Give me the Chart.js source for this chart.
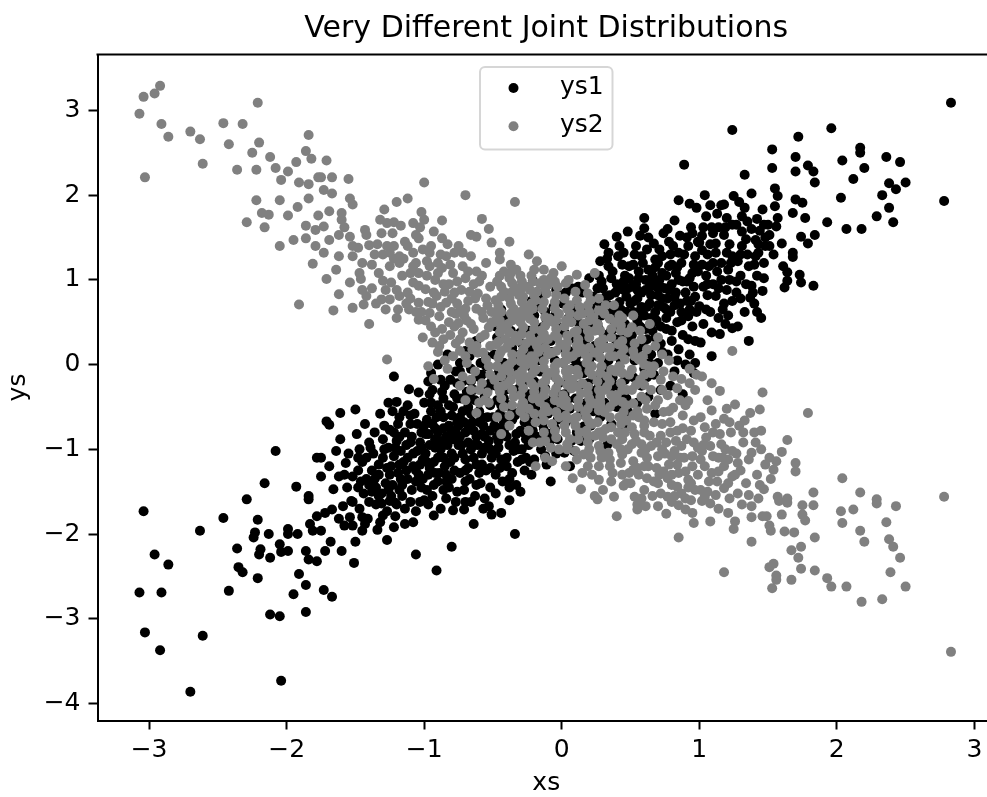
<!DOCTYPE html>
<html><head><meta charset="utf-8">
<script src="https://cdn.jsdelivr.net/npm/chart.js@4.4.0/dist/chart.umd.min.js"></script>
<style>
html,body{margin:0;padding:0;background:#fff;overflow:hidden;width:987px;height:797px;}
#wrap{position:absolute;left:0;top:0;width:1000px;height:797px;}
</style></head><body>
<div id="wrap"><canvas id="c" width="1000" height="797"></canvas></div>
<script>
const titleText = 'Very Different Joint Distributions';
const xAxisLabel = 'xs';
const yAxisLabel = 'ys';
const seriesLabels = ['ys1', 'ys2'];
const seriesColors = ['#000000', '#808080'];
const xTicks = [-3, -2, -1, 0, 1, 2, 3];
const xTickLabels = ['\u22123', '\u22122', '\u22121', '0', '1', '2', '3'];
const yTicks = [-4, -3, -2, -1, 0, 1, 2, 3];
const yTickLabels = ['\u22124', '\u22123', '\u22122', '\u22121', '0', '1', '2', '3'];
const xRange = [-3.375, 3.15];
const yRange = [-4.2, 3.66];

// ys1 (black) points: [xs, ys1]
const ys1Points = [
[-3.07,-2.69],[-3.04,-1.73],[-3.03,-3.16],[-2.96,-2.24],[-2.92,-3.37],[-2.91,-2.69],[-2.86,-2.36],[-2.70,-3.86],[-2.63,-1.96],[-2.61,-3.20],[-2.46,-1.81],[-2.42,-2.67],[-2.36,-2.17],[-2.35,-2.39],[-2.32,-2.45],[-2.29,-1.59],[-2.24,-2.04],[-2.23,-1.98],[-2.21,-1.83],[-2.21,-2.52],[-2.20,-2.24],[-2.19,-2.18],[-2.16,-1.40],[-2.13,-2.00],[-2.12,-2.28],[-2.12,-2.95],[-2.08,-1.02],[-2.05,-2.12],[-2.05,-2.97],[-2.04,-2.21],[-2.04,-3.73],[-1.99,-1.94],[-1.99,-2.00],[-1.99,-2.20],[-1.95,-2.71],[-1.93,-1.44],[-1.92,-2.00],[-1.91,-2.47],[-1.86,-2.20],[-1.86,-2.60],[-1.86,-2.92],[-1.84,-1.55],[-1.84,-1.59],[-1.84,-2.30],[-1.83,-1.88],[-1.81,-1.96],[-1.78,-1.10],[-1.78,-1.79],[-1.78,-2.32],
[-1.53,-1.61],[-1.59,-1.67],[-1.67,-1.71],[-1.72,-1.75],[-1.62,-1.82],[-1.54,-1.80],[-1.52,-1.90],[-1.75,-1.96],[-1.68,-2.09],[-1.72,-2.20],[-1.60,-2.20],[-1.51,-2.34],[-1.73,-2.66],[-1.67,-2.74],[-1.61,-0.57],[-1.71,-0.67],[-1.69,-0.71],[-1.61,-0.88],[-1.75,-1.10],[-1.69,-1.20],[-1.57,-1.16],[-1.62,-1.32],[-1.52,-1.32],[-1.66,-1.47],[-1.75,-1.32],[-1.50,-2.09],[-1.56,-1.45],[-1.64,-1.02],
[-1.41,-1.82],[-1.45,-1.96],[-1.32,-1.86],[-1.31,-1.64],[-1.27,-1.73],[-1.25,-1.61],[-1.27,-2.07],[-1.47,-1.00],[-1.40,-0.92],[-1.32,-0.58],[-1.50,-0.53],[-1.45,-1.15],[-1.38,-1.25],[-1.30,-1.10],[-1.42,-1.35],[-1.35,-1.45],[-1.28,-1.40],[-1.44,-1.52],[-1.36,-0.80],[-1.30,-0.88],[-1.26,-0.98],[-1.48,-1.25],[-1.33,-1.30],[-1.27,-1.22],[-1.40,-1.62],[-1.29,-0.72],[-1.47,-1.70],[-1.37,-1.05],[-1.43,-0.70],[-1.34,-1.95],[-1.49,-0.82],[-1.26,-0.45],[-1.38,-1.50],[-1.46,-1.38],[-1.31,-1.52],
[-1.55,-1.05],[-1.42,-1.10],[-1.48,-1.45],[-1.35,-1.65],[-1.45,-1.80],[-1.30,-1.78],[-1.58,-1.90],[-1.40,-1.42],[-1.33,-1.18],[-1.26,-1.48],
[-1.58,-1.30],[-1.52,-1.62],[-1.48,-1.10],[-1.43,-1.88],[-1.39,-0.98],[-1.36,-1.35],[-1.33,-1.55],[-1.29,-1.00],[-1.25,-1.30],[-1.22,-1.92],[-1.18,-1.48],[-1.14,-1.88],
[-1.21,-1.63],[-1.21,-1.79],[-1.06,-1.73],[-1.08,-1.86],[-1.00,-1.60],[-1.06,-2.24],[-1.22,-0.14],[-1.11,-0.29],[-1.04,-0.33],[-1.20,-0.44],[-1.12,-0.48],[-1.25,-0.77],[-1.18,-0.62],[-1.10,-0.70],[-1.02,-0.80],[-1.20,-0.90],[-1.13,-0.95],[-1.05,-1.02],[-1.22,-1.08],[-1.15,-1.15],[-1.08,-1.20],[-1.01,-1.12],[-1.19,-1.28],[-1.12,-1.35],[-1.04,-1.30],[-1.23,-1.42],[-1.09,-1.48],[-1.16,-1.55],[-1.02,-1.45],[-1.14,-0.80],[-1.07,-0.58],[-1.24,-1.20],[-1.17,-1.02],[-1.03,-0.92],[-1.10,-1.62],[-1.19,-0.70],[-1.06,-1.38],[-1.14,-1.70],[-1.00,-0.45],[-1.23,-0.55],[-1.09,-0.85],[-1.16,-1.42],[-1.03,-1.18],[-1.21,-0.98],
[-1.22,-0.80],[-1.08,-1.05],[-1.18,-1.18],[-1.13,-1.25],[-1.03,-1.62],[-1.17,-1.35],[-1.24,-1.55],[-1.10,-0.92],[-1.05,-0.70],[-1.15,-0.55],[-1.01,-1.35],[-1.20,-1.65],
[-1.18,-0.85],[-1.12,-1.10],[-1.10,-0.60],[-1.06,-1.25],[-1.02,-0.98],[-1.00,-0.72],[-0.98,-1.15],[-0.96,-0.35],[-0.94,-0.70],[-0.92,-1.28],[-0.90,-0.48],[-0.88,-0.90],[-0.86,-0.75],[-0.84,-1.38],[-0.82,-0.48],[-0.80,-0.78],[-0.78,-1.10],[-0.76,-0.40],[-0.74,-0.85],[-0.72,-0.55],[-0.70,-1.25],[-0.68,-0.72],[-0.66,-0.40],[-0.64,-0.95],[-0.62,-1.42],[-0.60,-0.68],[-0.58,-1.18],[-0.56,-0.85],[-0.54,-0.30],[-0.52,-1.00],[-0.50,-0.62],[-0.48,-0.15],[-0.46,-0.75],[-0.44,-1.12],[-0.42,-0.40],[-0.40,-0.85],[-0.38,-1.35],[-0.36,-0.30],[-0.34,-0.60],[-0.32,-1.00],[-0.30,-0.12],[-0.28,-0.80],[-0.26,-1.10],[-0.24,-0.50],[-0.22,-0.72],
[-0.80,-2.15],[-0.91,-2.43],[-0.90,0.00],[-0.77,-0.08],[-0.97,-0.20],[-0.85,-0.25],[-0.78,-0.35],[-0.95,-0.45],[-0.88,-0.55],[-0.80,-0.60],[-0.98,-0.65],[-0.92,-0.75],[-0.84,-0.85],[-0.77,-0.80],[-0.96,-0.95],[-0.88,-1.00],[-0.80,-1.05],[-0.93,-1.15],[-0.85,-1.20],[-0.78,-1.25],[-0.97,-1.30],[-0.90,-1.38],[-0.82,-1.45],[-0.94,-1.55],[-0.86,-0.40],[-0.99,-1.05],[-0.76,-1.50],[-0.88,-1.70],[-0.83,0.12],[-0.95,-0.10],[-0.79,-0.50],[-0.91,-0.62],[-0.99,-0.82],[-0.82,-0.72],[-0.75,-0.95],[-0.92,-0.88],[-0.86,-1.10],[-0.96,-1.22],[-0.80,-1.35],[-0.89,-1.28],[-0.77,-1.62],[-0.98,-1.48],[-0.84,-1.58],[-0.93,-1.78],[-0.81,-0.18],[-0.87,-0.32],[-0.76,-0.68],[-0.94,-0.30],[-0.83,-0.95],[-0.90,-0.80],
[-0.95,-0.55],[-0.86,-0.62],[-0.79,-0.88],[-0.97,-0.82],[-0.90,-1.10],[-0.81,-1.15],[-0.93,-1.42],[-0.86,-1.48],[-0.79,-1.72],[-0.97,-1.65],[-0.88,-0.18],[-0.76,-0.22],[-0.92,-0.98],[-0.84,-1.30],
[-0.70,-1.62],[-0.71,-1.71],[-0.53,-1.67],[-0.51,-1.77],[-0.70,0.16],[-0.62,0.28],[-0.55,0.10],[-0.74,0.02],[-0.66,-0.05],[-0.58,-0.12],[-0.72,-0.20],[-0.52,-0.22],[-0.64,-0.30],[-0.56,-0.38],[-0.73,-0.40],[-0.68,-0.50],[-0.60,-0.55],[-0.52,-0.48],[-0.74,-0.62],[-0.65,-0.68],[-0.57,-0.72],[-0.70,-0.80],[-0.62,-0.85],[-0.53,-0.90],[-0.73,-0.95],[-0.66,-1.00],[-0.58,-1.05],[-0.51,-1.10],[-0.70,-1.12],[-0.62,-1.18],[-0.55,-1.25],[-0.74,-1.28],[-0.67,-1.35],[-0.59,-1.40],[-0.52,-1.45],[-0.71,-1.48],[-0.63,-1.55],[-0.56,-1.58],[-0.66,-0.20],[-0.54,-0.62],[-0.61,-0.95],[-0.69,-0.32],[-0.58,-0.82],[-0.63,-0.42],[-0.72,-1.05],[-0.55,-0.02],[-0.68,-1.22],[-0.60,-0.15],[-0.64,-1.88],[-0.75,-0.72],
[-0.66,-0.58],[-0.58,-0.62],[-0.71,-0.68],[-0.52,-0.78],[-0.64,-0.78],[-0.68,-0.92],[-0.56,-0.98],[-0.64,-1.10],[-0.52,-1.22],[-0.70,-1.38],[-0.60,-1.28],[-0.66,-1.62],[-0.57,-1.70],[-0.74,-0.08],[-0.59,0.02],[-0.67,0.10],
[-0.34,-2.00],[-0.48,0.45],[-0.40,0.55],[-0.30,0.38],[-0.45,0.30],[-0.36,0.20],[-0.27,0.12],[-0.49,0.12],[-0.42,0.02],[-0.32,-0.02],[-0.46,-0.10],[-0.38,-0.15],[-0.28,-0.20],[-0.48,-0.25],[-0.41,-0.30],[-0.33,-0.35],[-0.26,-0.42],[-0.47,-0.42],[-0.39,-0.48],[-0.30,-0.55],[-0.45,-0.58],[-0.36,-0.65],[-0.27,-0.68],[-0.49,-0.72],[-0.42,-0.78],[-0.33,-0.82],[-0.26,-0.88],[-0.46,-0.90],[-0.38,-0.95],[-0.29,-1.00],[-0.48,-1.05],[-0.40,-1.10],[-0.32,-1.15],[-0.45,-1.22],[-0.36,-1.28],[-0.27,-1.25],[-0.43,-1.38],[-0.33,-1.42],[-0.48,-1.52],[-0.38,-1.60],[-0.30,-1.50],[-0.44,0.65],[-0.35,-0.08],[-0.29,0.25],[-0.40,-0.62],[-0.31,-0.28],[-0.47,-0.85],[-0.35,-1.02],[-0.42,-0.20],[-0.26,-0.62],[-0.37,0.40],[-0.44,-1.75],
[-0.44,-0.48],[-0.36,-0.55],[-0.30,-0.78],[-0.42,-0.68],[-0.34,-0.92],[-0.46,-0.98],[-0.40,-1.20],[-0.29,-1.12],[-0.48,-1.30],[-0.38,-1.45],[-0.28,-0.45],[-0.44,-0.05],[-0.34,0.12],[-0.47,0.32],
[-0.09,-0.92],[-0.13,-0.77],[-0.22,0.75],[-0.15,0.82],[-0.06,0.68],[-0.20,0.58],[-0.11,0.52],[-0.03,0.45],[-0.24,0.40],[-0.17,0.35],[-0.08,0.28],[-0.01,0.20],[-0.21,0.18],[-0.13,0.10],[-0.05,0.05],[-0.23,-0.02],[-0.16,-0.08],[-0.07,-0.12],[-0.02,-0.22],[-0.20,-0.20],[-0.12,-0.28],[-0.24,-0.35],[-0.15,-0.42],[-0.06,-0.38],[-0.19,-0.52],[-0.10,-0.58],[-0.02,-0.55],[-0.23,-0.65],[-0.14,-0.70],[-0.05,-0.75],[-0.18,-0.85],[-0.24,-0.95],[-0.15,-1.00],[-0.04,-1.05],[-0.20,-1.12],[-0.11,-1.18],[-0.22,-1.30],[-0.08,-1.38],[-0.17,0.05],[-0.09,-0.45],[-0.04,0.88],[-0.18,-0.30],[-0.03,-0.88],[-0.12,0.62],[-0.21,-0.78],[-0.07,0.15],[-0.16,0.25],[-0.21,0.99],
[-0.20,-0.45],[-0.07,-0.48],[-0.16,-0.62],[-0.03,-0.65],[-0.22,-0.88],[-0.09,-0.82],[-0.12,-1.08],[-0.23,-1.15],[-0.02,-0.35],[-0.14,0.44],[-0.05,0.58],[-0.19,0.68],
[0.02,-1.04],[0.09,-1.02],[0.06,-1.20],[0.16,-0.73],[0.20,1.02],[0.07,0.90],[0.15,0.85],[0.23,0.80],[0.01,0.72],[0.10,0.68],[0.18,0.62],[0.05,0.55],[0.13,0.48],[0.22,0.45],[0.02,0.38],[0.09,0.32],[0.17,0.28],[0.24,0.22],[0.04,0.18],[0.12,0.12],[0.20,0.05],[0.01,0.02],[0.08,-0.05],[0.16,-0.10],[0.23,-0.15],[0.05,-0.18],[0.13,-0.25],[0.21,-0.30],[0.02,-0.35],[0.10,-0.40],[0.18,-0.45],[0.06,-0.52],[0.14,-0.58],[0.23,-0.55],[0.03,-0.68],[0.11,-0.80],[0.20,-0.88],[0.07,-0.90],[0.19,0.35],[0.08,0.15],[0.14,-0.02],[0.04,-0.42],[0.21,-0.72],[0.11,0.58],
[0.12,0.92],[0.03,0.85],[0.21,0.68],[0.08,0.62],[0.15,0.38],[0.06,0.30],[0.22,0.12],[0.10,0.05],[0.19,-0.22],[0.06,-0.28],[0.15,-0.52],[0.24,-0.38],[0.01,-0.55],[0.14,-0.90],
[0.31,1.42],[0.34,1.32],[0.41,1.28],[0.34,1.16],[0.49,1.16],[0.40,1.51],[0.48,1.57],[0.29,-0.80],[0.27,1.05],[0.36,1.02],[0.45,0.98],[0.30,0.90],[0.39,0.85],[0.47,0.80],[0.26,0.75],[0.34,0.70],[0.43,0.65],[0.29,0.58],[0.38,0.52],[0.46,0.48],[0.27,0.42],[0.35,0.38],[0.44,0.32],[0.30,0.25],[0.39,0.20],[0.48,0.15],[0.26,0.10],[0.34,0.05],[0.42,-0.02],[0.29,-0.08],[0.37,-0.15],[0.46,-0.18],[0.27,-0.25],[0.35,-0.30],[0.43,-0.35],[0.31,-0.45],[0.40,-0.50],[0.48,-0.55],[0.28,-0.62],[0.36,-0.70],[0.45,-0.72],[0.33,-0.95],[0.42,1.40],[0.28,1.22],[0.46,1.05],[0.37,0.62],[0.32,-0.18],[0.41,0.10],[0.45,0.88],[0.26,0.48],
[0.33,1.25],[0.45,1.32],[0.29,0.98],[0.40,0.95],[0.48,0.90],[0.32,0.80],[0.42,0.74],[0.27,0.62],[0.35,0.55],[0.44,0.45],[0.31,0.35],[0.39,0.30],[0.47,0.25],[0.28,0.18],[0.43,0.05],[0.32,-0.05],[0.40,-0.25],[0.47,-0.40],[0.30,-0.55],
[0.26,0.90],[0.30,0.68],[0.35,0.82],[0.37,1.10],[0.38,0.42],[0.41,0.60],[0.43,0.90],[0.44,1.18],[0.47,0.62],[0.49,1.02],[0.50,0.30],[0.50,0.72],[0.53,1.30],[0.54,0.95],[0.56,0.62],[0.58,0.85],[0.59,1.20],[0.62,1.36],[0.62,0.68],[0.64,0.92],[0.66,1.05],[0.67,0.50],[0.70,0.70],[0.71,1.00],[0.73,1.28],[0.75,0.90],[0.76,0.65],[0.78,1.45],[0.80,1.18],[0.82,0.80],[0.85,1.00],[0.87,0.62],[0.89,1.30],[0.91,0.75],[0.93,1.02],[0.95,1.55],[0.97,0.80],[0.99,1.10],
[0.60,1.73],[0.60,1.61],[0.54,1.40],[0.67,1.43],[0.71,1.36],[0.58,1.28],[0.68,1.24],[0.52,1.18],[0.63,1.12],[0.73,1.08],[0.56,1.02],[0.66,0.98],[0.51,0.92],[0.61,0.88],[0.70,0.82],[0.55,0.78],[0.64,0.72],[0.74,0.68],[0.52,0.62],[0.60,0.58],[0.69,0.52],[0.57,0.45],[0.66,0.40],[0.51,0.35],[0.62,0.30],[0.72,0.25],[0.55,0.18],[0.65,0.12],[0.53,0.05],[0.70,0.02],[0.60,-0.05],[0.67,-0.12],[0.52,-0.15],[0.58,-0.25],[0.72,-0.30],[0.63,-0.38],[0.55,-0.45],[0.68,-0.58],[0.74,1.55],[0.57,1.52],[0.65,0.55],[0.72,0.92],[0.59,0.22],[0.53,0.75],[0.68,1.15],[0.62,-0.15],
[0.63,1.50],[0.70,1.20],[0.56,1.10],[0.61,1.00],[0.69,0.92],[0.55,0.88],[0.65,0.82],[0.73,0.78],[0.58,0.68],[0.68,0.62],[0.55,0.52],[0.72,0.45],[0.61,0.42],[0.51,0.25],[0.68,0.32],[0.57,0.08],[0.73,0.15],[0.64,0.02],
[0.89,2.36],[0.85,1.94],[0.93,1.90],[0.98,1.85],[0.77,1.60],[0.81,1.40],[0.85,1.32],[0.97,1.28],[0.78,1.16],[0.87,1.20],[0.92,0.57],[0.90,0.00],[0.83,0.85],[0.76,1.05],[0.95,1.08],[0.80,0.95],[0.88,0.98],[0.96,0.92],[0.77,0.78],[0.86,0.72],[0.94,0.75],[0.79,0.62],[0.98,0.62],[0.84,0.50],[0.76,0.42],[0.95,0.45],[0.88,0.35],[0.80,0.28],[0.97,0.28],[0.85,0.18],[0.77,0.12],[0.93,0.12],[0.82,-0.08],[0.96,-0.10],[0.79,-0.25],[0.88,-0.35],[0.91,1.50],[0.83,1.08],[0.99,1.45],[0.76,0.55],[0.90,0.85],[0.82,1.70],[0.94,1.62],
[0.86,1.52],[0.79,1.30],[0.92,1.40],[0.84,1.15],[0.96,1.18],[0.78,0.88],[0.91,0.98],[0.82,0.70],[0.93,0.65],[0.87,0.52],[0.80,0.40],[0.92,0.30],[0.84,0.05],[0.97,0.02],
[1.24,2.77],[1.04,2.00],[1.25,1.99],[1.18,1.89],[1.13,1.78],[1.20,1.73],[1.24,1.65],[1.02,1.52],[1.00,1.44],[1.12,1.43],[1.18,1.53],[1.24,1.28],[1.12,1.32],[1.07,1.16],[1.21,1.12],[1.12,0.81],[1.00,0.69],[1.09,0.10],[1.01,0.26],[1.24,0.43],[1.15,0.36],[1.05,1.05],[1.16,1.00],[1.03,0.92],[1.10,0.95],[1.20,0.88],[1.06,0.82],[1.18,0.72],[1.08,0.62],[1.14,0.55],[1.03,0.48],[1.21,0.58],[1.06,1.30],[1.16,1.20],[1.09,1.62],[1.22,1.42],[1.05,1.75],
[1.14,1.62],[1.03,1.62],[1.20,1.32],[1.08,1.42],[1.10,1.20],[1.22,1.00],[1.02,1.18],[1.14,0.90],[1.24,0.75],[1.05,0.65],[1.19,0.48],[1.09,0.38],[1.16,1.88],[1.08,1.88],
[1.02,1.35],[1.06,0.95],[1.10,1.55],[1.13,1.10],[1.17,0.65],[1.19,1.62],[1.23,1.20],[1.27,0.98],[1.31,1.75],[1.35,1.30],[1.39,0.85],[1.43,1.42],[1.47,1.65],
[1.33,2.24],[1.38,2.02],[1.35,1.69],[1.46,1.83],[1.31,1.57],[1.41,1.47],[1.31,1.40],[1.41,1.28],[1.36,1.16],[1.43,1.32],[1.47,1.20],[1.46,0.87],[1.37,0.79],[1.38,0.93],[1.27,0.85],[1.36,0.28],[1.30,1.05],[1.42,1.05],[1.33,0.62],[1.45,0.55],[1.28,0.45],[1.40,0.72],[1.48,1.40],[1.29,1.92],[1.44,1.58],[1.34,1.48],[1.28,1.22],
[1.33,1.85],[1.42,1.72],[1.27,1.65],[1.38,1.60],[1.48,1.50],[1.30,1.30],[1.40,1.18],[1.34,0.95],[1.47,1.02],[1.30,0.78],[1.42,0.62],
[1.50,1.65],[1.53,2.54],[1.53,2.32],[1.55,2.08],[1.57,1.99],[1.55,1.87],[1.57,1.73],[1.56,1.63],[1.51,1.53],[1.60,1.43],[1.51,1.40],[1.54,1.30],[1.61,1.16],[1.64,1.09],[1.62,0.91],[1.64,0.99],[1.74,0.97],[1.83,0.93],[1.72,2.69],[1.70,2.45],[1.70,2.28],[1.79,2.35],[1.83,2.28],[1.84,2.15],[1.70,1.95],[1.75,1.91],[1.68,1.79],[1.77,1.73],[1.74,1.51],[1.84,1.53],[1.79,1.43],[1.68,1.32],[1.68,1.27],[1.73,1.06],[1.96,2.79],[2.17,2.56],[2.17,2.50],[2.04,2.41],[2.36,2.45],[2.46,2.39],[2.20,2.32],[2.12,2.19],[2.38,2.14],[2.43,2.07],[2.50,2.15],[2.33,2.00],[2.03,1.97],[2.78,1.93],[2.38,1.85],[2.29,1.75],[2.41,1.68],[1.93,1.68],[2.07,1.60],[2.18,1.60],[2.83,3.09]
];

// ys2 (gray) points: [xs, ys2]
const ys2Points = [
[-3.07,2.96],[-3.04,3.16],[-3.03,2.21],[-2.96,3.20],[-2.92,3.29],[-2.91,2.84],[-2.86,2.69],[-2.70,2.75],[-2.63,2.66],[-2.61,2.37],[-2.46,2.85],[-2.42,2.60],[-2.36,2.30],[-2.32,2.84],[-2.29,1.68],[-2.25,2.50],[-2.22,2.30],[-2.22,1.94],[-2.21,3.09],[-2.20,2.62],[-2.18,1.79],[-2.16,1.62],[-2.13,1.77],[-2.12,2.45],[-2.08,2.32],[-2.05,1.94],[-2.05,1.40],[-2.04,2.18],[-1.99,2.28],[-1.99,1.76],[-1.95,1.47],[-1.93,2.39],[-1.92,1.86],[-1.91,2.15],[-1.91,0.71],[-1.86,2.52],[-1.86,1.64],[-1.86,1.49],[-1.84,2.71],[-1.84,2.13],[-1.84,1.96],[-1.82,2.43],[-1.81,1.19],[-1.79,1.59],[-1.79,1.40],[-1.77,2.21],[-1.77,1.76],
[-1.71,2.41],[-1.75,2.21],[-1.67,2.21],[-1.55,2.19],[-1.73,2.06],[-1.67,2.02],[-1.54,1.96],[-1.52,1.89],[-1.69,1.81],[-1.60,1.79],[-1.60,1.71],[-1.73,1.63],[-1.62,1.53],[-1.69,1.47],[-1.54,1.51],[-1.52,1.40],[-1.73,1.32],[-1.62,1.28],[-1.52,1.28],[-1.64,1.12],[-1.71,1.01],[-1.66,0.64],[-1.52,0.67],[-1.62,0.83],[-1.54,0.97],[-1.58,1.62],
[-1.43,1.59],[-1.42,1.53],[-1.40,1.41],[-1.27,1.40],[-1.46,1.01],[-1.44,0.71],[-1.42,0.81],[-1.40,0.48],[-1.31,0.77],[-1.30,0.99],[-1.28,0.65],[-1.25,0.77],[-1.31,1.55],[-1.32,1.71],[-1.29,1.83],[-1.27,1.67],[-1.47,1.08],[-1.33,1.08],[-1.25,1.32],[-1.25,1.16],[-1.27,0.06],
[-1.36,1.30],[-1.45,1.20],[-1.38,0.90],[-1.34,1.42],[-1.48,1.38],
[-1.45,0.88],[-1.38,1.18],[-1.35,0.72],[-1.30,1.30],[-1.28,0.88],[-1.22,1.25],[-1.20,0.55],[-1.16,1.05],[-1.12,1.40],[-1.10,0.78],[-1.06,1.20],[-1.02,0.62],[-0.98,1.05],[-0.96,1.32],[-0.93,0.85],[-0.90,1.20],[-0.86,0.95],[-0.84,1.28],[-0.80,0.78],[-0.78,0.45],
[-1.23,1.55],[-1.17,1.64],[-1.08,1.67],[-1.02,1.80],[-1.00,1.71],[-1.20,1.92],[-1.12,1.96],[-1.00,2.15],[-1.18,1.28],[-1.08,1.32],[-1.01,1.36],[-1.06,1.53],[-1.04,1.49],[-1.18,1.20],[-1.08,1.16],[-1.04,1.08],[-1.24,0.97],[-1.19,0.65],[-1.12,0.85],[-1.11,0.65],[-1.04,0.73],[-1.08,0.97],[-1.18,0.81],[-1.04,0.93],[-1.04,0.53],[-1.01,0.32],
[-1.22,1.40],[-1.14,1.45],[-1.10,1.08],[-1.15,1.25],[-1.03,1.62],[-1.20,0.88],[-1.13,0.72],[-1.06,0.62],[-1.22,1.68],
[-0.87,1.70],[-0.93,1.57],[-0.87,1.49],[-0.88,1.30],[-0.75,1.40],[-0.96,1.16],[-0.87,1.14],[-0.79,1.08],[-0.99,0.89],[-0.96,0.61],[-0.89,0.57],[-0.84,0.73],[-0.94,0.26],[-0.87,0.42],[-0.79,0.10],[-0.97,-0.02],[-0.93,-0.17],[-0.91,0.81],[-0.75,0.49],[-0.82,0.95],[-0.92,1.00],[-0.78,0.85],[-0.86,0.30],[-0.80,0.62],[-0.95,0.45],[-0.77,0.25],[-0.83,-0.05],[-0.90,0.15],[-0.82,0.50],[-0.76,0.72],[-0.85,0.05],[-0.94,0.72],
[-0.98,1.22],[-0.90,1.08],[-0.81,1.18],[-0.76,0.98],[-0.97,0.74],[-0.85,0.86],[-0.77,0.60],[-0.92,0.38],[-0.81,0.35],[-0.99,0.52],[-0.88,0.68],[-0.78,1.32],[-0.95,1.40],[-0.83,1.42],[-0.89,0.22],
[-0.70,2.00],[-0.58,1.72],[-0.53,1.60],[-0.66,1.53],[-0.62,1.51],[-0.51,1.44],[-0.72,1.32],[-0.66,1.28],[-0.72,1.16],[-0.62,1.10],[-0.62,-0.57],[-0.53,-0.45],[-0.70,1.02],[-0.58,1.05],[-0.64,0.95],[-0.52,0.92],[-0.73,0.88],[-0.61,0.84],[-0.55,0.78],[-0.68,0.75],[-0.74,0.64],[-0.62,0.66],[-0.51,0.62],[-0.57,0.55],[-0.69,0.52],[-0.64,0.42],[-0.53,0.44],[-0.72,0.38],[-0.59,0.32],[-0.67,0.26],[-0.52,0.22],[-0.74,0.16],[-0.61,0.14],[-0.55,0.06],[-0.69,0.02],[-0.63,-0.08],[-0.52,-0.12],[-0.72,-0.14],[-0.58,-0.22],[-0.66,-0.30],[-0.54,-0.33],[-0.70,-0.42],[-0.60,-0.45],[-0.65,0.18],[-0.56,0.35],[-0.71,0.58],[-0.63,0.78],
[-0.60,0.98],[-0.67,0.86],[-0.54,0.70],[-0.70,0.66],[-0.58,0.62],[-0.66,0.48],[-0.51,0.50],[-0.74,0.30],[-0.62,0.22],[-0.57,0.14],[-0.70,0.10],[-0.53,-0.02],[-0.66,-0.18],[-0.60,-0.30],[-0.74,-0.25],[-0.56,-0.42],[-0.68,1.10],[-0.55,1.20],
[-0.34,1.92],[-0.45,1.32],[-0.45,1.24],[-0.38,1.45],[-0.37,1.18],[-0.42,1.10],[-0.30,1.05],[-0.47,0.98],[-0.36,0.96],[-0.26,0.92],[-0.42,0.86],[-0.31,0.82],[-0.48,0.76],[-0.37,0.72],[-0.27,0.68],[-0.44,0.62],[-0.33,0.58],[-0.49,0.50],[-0.39,0.48],[-0.28,0.44],[-0.45,0.38],[-0.34,0.34],[-0.26,0.25],[-0.48,0.24],[-0.40,0.20],[-0.30,0.12],[-0.46,0.08],[-0.36,0.04],[-0.27,-0.02],[-0.43,-0.06],[-0.32,-0.12],[-0.49,-0.18],[-0.39,-0.22],[-0.28,-0.28],[-0.45,-0.32],[-0.35,-0.38],[-0.42,-0.50],[-0.30,-0.55],[-0.38,-0.72],[-0.41,0.30],[-0.29,0.56],[-0.46,0.70],[-0.33,0.90],[-0.40,-0.02],[-0.26,-0.15],
[-0.38,1.02],[-0.28,0.80],[-0.44,0.80],[-0.35,0.66],[-0.47,0.56],[-0.30,0.50],[-0.42,0.42],[-0.32,0.28],[-0.44,0.16],[-0.26,0.06],[-0.38,-0.08],[-0.47,-0.02],[-0.30,-0.20],[-0.42,-0.25],[-0.36,-0.48],[-0.47,-0.62],[-0.28,-0.45],[-0.33,1.12],[-0.27,-0.62],[-0.44,-0.82],
[-0.45,1.05],[-0.44,0.92],[-0.46,0.66],[-0.45,0.52],[-0.44,0.44],[-0.46,0.27],[-0.45,0.13],[-0.44,-0.14],[-0.46,-0.26],[-0.44,-0.40],
[-0.37,1.08],[-0.36,0.86],[-0.38,0.78],[-0.37,0.60],[-0.36,0.52],[-0.38,0.38],[-0.37,0.26],[-0.36,0.12],[-0.38,0.00],[-0.37,-0.18],[-0.36,-0.30],[-0.38,-0.60],
[-0.29,0.98],[-0.30,0.88],[-0.29,0.74],[-0.30,0.62],[-0.29,0.36],[-0.28,0.18],[-0.30,0.04],[-0.29,-0.08],[-0.30,-0.36],[-0.29,-0.48],
[-0.21,0.98],[-0.20,0.82],[-0.21,0.66],[-0.20,0.42],[-0.21,0.28],[-0.20,0.06],[-0.21,-0.10],[-0.20,-0.26],[-0.21,-0.40],[-0.20,-0.58],
[-0.13,1.00],[-0.12,0.90],[-0.13,0.74],[-0.12,0.56],[-0.13,0.36],[-0.12,0.20],[-0.13,-0.04],[-0.12,-0.20],[-0.13,-0.36],[-0.12,-0.50],[-0.13,-0.66],[-0.12,-0.90],
[-0.05,0.98],[-0.04,0.82],[-0.05,0.66],[-0.04,0.52],[-0.05,0.34],[-0.04,0.16],[-0.05,-0.02],[-0.04,-0.16],[-0.05,-0.42],[-0.04,-0.56],[-0.05,-0.78],
[-0.24,1.30],[-0.18,1.22],[-0.13,1.12],[-0.12,-1.10],[-0.07,-1.14],[-0.22,1.05],[-0.08,1.02],[-0.16,0.96],[-0.03,0.92],[-0.23,0.88],[-0.11,0.84],[-0.19,0.76],[-0.05,0.74],[-0.14,0.66],[-0.24,0.62],[-0.02,0.60],[-0.09,0.54],[-0.20,0.50],[-0.15,0.40],[-0.04,0.42],[-0.23,0.34],[-0.10,0.30],[-0.01,0.24],[-0.18,0.22],[-0.07,0.14],[-0.22,0.10],[-0.13,0.04],[-0.03,0.02],[-0.19,-0.06],[-0.09,-0.10],[-0.24,-0.16],[-0.14,-0.22],[-0.02,-0.20],[-0.20,-0.32],[-0.06,-0.34],[-0.16,-0.44],[-0.24,-0.52],[-0.10,-0.55],[-0.02,-0.62],[-0.19,-0.68],[-0.13,-0.80],[-0.04,-0.86],[-0.21,-0.92],[-0.08,-0.98],[-0.17,0.15],[-0.06,0.50],[-0.12,-0.30],[-0.22,0.72],[-0.01,-0.45],
[-0.20,1.12],[-0.10,0.94],[-0.06,1.08],[-0.18,0.86],[-0.23,0.54],[-0.12,0.46],[-0.03,0.32],[-0.15,0.30],[-0.21,0.00],[-0.05,-0.08],[-0.11,-0.14],[-0.18,-0.40],[-0.04,-0.28],[-0.22,-0.22],[-0.14,-0.58],[-0.07,-0.70],[-0.24,-0.78],[-0.16,-0.92],[-0.02,-1.00],[-0.19,-1.20],[-0.10,0.12],
[0.00,1.16],[0.24,1.08],[0.14,-1.47],[0.24,-1.55],[0.05,1.00],[0.17,0.94],[0.10,0.86],[0.02,0.78],[0.21,0.76],[0.13,0.68],[0.06,0.60],[0.23,0.56],[0.16,0.48],[0.02,0.45],[0.09,0.38],[0.20,0.32],[0.04,0.26],[0.14,0.20],[0.24,0.14],[0.08,0.10],[0.01,0.02],[0.18,0.02],[0.11,-0.06],[0.04,-0.14],[0.22,-0.12],[0.15,-0.22],[0.07,-0.28],[0.01,-0.36],[0.19,-0.34],[0.12,-0.42],[0.24,-0.46],[0.05,-0.50],[0.17,-0.56],[0.09,-0.64],[0.02,-0.72],[0.22,-0.70],[0.13,-0.80],[0.06,-0.88],[0.19,-0.92],[0.10,-1.02],[0.03,-1.20],[0.21,-1.10],[0.15,-1.28],[0.08,-0.18],[0.20,0.62],[0.12,0.30],[0.03,-0.60],[0.18,-0.78],
[0.11,1.06],[0.19,0.84],[0.06,0.70],[0.15,0.60],[0.24,0.40],[0.07,0.50],[0.03,0.12],[0.17,0.12],[0.11,0.22],[0.22,-0.02],[0.06,-0.06],[0.14,-0.34],[0.21,-0.46],[0.02,-0.48],[0.10,-0.72],[0.24,-0.84],[0.04,-1.00],[0.16,-1.06],[0.08,-1.34],[0.22,-1.30],[0.18,-0.62],
[0.03,0.96],[0.04,0.66],[0.03,0.52],[0.04,0.34],[0.03,0.20],[0.04,0.06],[0.03,-0.08],[0.04,-0.24],[0.03,-0.42],[0.04,-0.64],[0.03,-0.80],[0.04,-0.94],
[0.11,0.76],[0.12,0.58],[0.11,0.40],[0.12,0.26],[0.11,0.14],[0.12,-0.12],[0.11,-0.26],[0.12,-0.50],[0.11,-0.62],[0.12,-0.88],[0.11,-1.12],
[0.19,0.70],[0.20,0.52],[0.19,0.40],[0.20,0.20],[0.19,0.08],[0.20,-0.08],[0.19,-0.26],[0.20,-0.40],[0.19,-0.52],[0.20,-0.68],[0.19,-0.84],[0.20,-1.00],[0.19,-1.20],
[0.27,0.64],[0.28,0.40],[0.27,0.26],[0.28,-0.10],[0.27,-0.30],[0.28,-0.44],[0.27,-0.80],[0.28,-1.02],[0.27,-1.20],
[0.35,0.54],[0.36,0.32],[0.35,0.20],[0.36,-0.06],[0.35,-0.20],[0.36,-0.36],[0.35,-0.50],[0.36,-0.88],[0.35,-1.12],[0.36,-1.38],
[0.43,0.46],[0.44,0.28],[0.43,0.12],[0.44,-0.10],[0.43,-0.22],[0.44,-0.44],[0.43,-0.70],[0.44,-0.88],[0.43,-1.00],[0.44,-1.30],
[0.51,0.44],[0.52,0.16],[0.51,-0.30],[0.52,-0.60],[0.51,-0.94],[0.52,-1.24],[0.60,0.00],[0.60,-0.24],[0.61,-0.42],[0.60,-0.72],[0.61,-1.00],[0.60,-1.20],
[0.26,-1.59],[0.40,-1.79],[0.45,-1.43],[0.29,-1.10],[0.27,0.78],[0.38,0.70],[0.31,0.60],[0.44,0.55],[0.26,0.48],[0.36,0.42],[0.48,0.38],[0.30,0.30],[0.41,0.24],[0.27,0.16],[0.35,0.10],[0.46,0.06],[0.29,-0.02],[0.39,-0.08],[0.49,-0.12],[0.26,-0.20],[0.33,-0.26],[0.44,-0.30],[0.28,-0.38],[0.38,-0.44],[0.47,-0.48],[0.31,-0.56],[0.42,-0.62],[0.26,-0.68],[0.36,-0.74],[0.46,-0.80],[0.30,-0.86],[0.40,-0.94],[0.48,-1.00],[0.34,-1.04],[0.43,-1.16],[0.37,-1.28],[0.27,-1.36],[0.49,-1.28],[0.32,0.20],[0.42,-0.02],[0.28,-0.48],[0.45,0.18],[0.35,-0.62],[0.39,0.50],[0.47,-0.66],[0.33,-0.14],
[0.32,0.70],[0.43,0.40],[0.28,0.08],[0.38,0.10],[0.47,-0.30],[0.31,-0.30],[0.40,-0.36],[0.27,-0.54],[0.45,-0.56],[0.32,-0.76],[0.41,-0.80],[0.27,-0.96],[0.44,-1.06],[0.35,-1.20],[0.30,-1.48],[0.47,-1.40],[0.38,-1.56],[0.42,0.58],
[0.55,-1.65],[0.55,-1.71],[0.61,-1.67],[0.70,-1.67],[0.52,0.58],[0.64,0.48],[0.57,0.40],[0.70,0.32],[0.53,0.25],[0.62,0.18],[0.73,0.12],[0.56,0.06],[0.67,-0.02],[0.51,-0.06],[0.60,-0.12],[0.72,-0.18],[0.54,-0.24],[0.65,-0.30],[0.58,-0.38],[0.70,-0.42],[0.52,-0.46],[0.62,-0.52],[0.74,-0.56],[0.56,-0.62],[0.67,-0.68],[0.51,-0.74],[0.60,-0.80],[0.72,-0.84],[0.54,-0.90],[0.65,-0.96],[0.58,-1.04],[0.70,-1.08],[0.52,-1.14],[0.63,-1.20],[0.74,-1.26],[0.56,-1.30],[0.67,-1.38],[0.60,-1.48],[0.72,-1.52],[0.53,-1.56],[0.65,-0.10],[0.55,-0.55],[0.69,-0.92],[0.59,0.10],[0.73,-0.30],
[0.58,0.30],[0.68,0.22],[0.53,0.10],[0.63,-0.02],[0.74,-0.08],[0.57,-0.18],[0.68,-0.48],[0.60,-0.66],[0.73,-0.70],[0.53,-0.82],[0.64,-0.84],[0.58,-0.94],[0.73,-1.00],[0.62,-1.10],[0.55,-1.22],[0.69,-1.22],[0.62,-1.34],[0.50,-1.40],[0.70,-1.40],[0.58,-1.58],
[0.66,-1.55],[0.71,-1.30],[0.75,-1.05],[0.78,-0.55],[0.82,-1.55],[0.86,-1.10],[0.88,-0.75],[0.92,-1.45],[0.96,-0.92],[0.99,-1.30],[1.03,-0.95],[1.06,-1.50],[1.10,-0.80],[1.13,-1.38],[1.17,-1.10],[1.22,-0.68],[1.26,-1.30],
[0.87,-0.17],[0.92,-0.43],[0.81,-0.51],[0.76,-1.76],[0.85,-1.66],[0.90,-1.71],[0.95,-1.75],[0.96,-1.87],[0.85,-2.04],[0.78,0.05],[0.93,-0.05],[0.84,-0.28],[0.77,-0.36],[0.97,-0.30],[0.88,-0.60],[0.79,-0.68],[0.96,-0.66],[0.84,-0.78],[0.91,-0.88],[0.76,-0.92],[0.99,-0.98],[0.82,-1.02],[0.89,-1.10],[0.78,-1.18],[0.95,-1.20],[0.85,-1.28],[0.92,-1.36],[0.80,-1.42],[0.97,-1.48],[0.87,-1.52],[0.77,-1.56],[0.94,-1.60],[0.83,-0.90],[0.98,-0.12],[0.80,-1.30],[0.90,-0.48],
[0.81,-0.14],[0.93,-0.22],[0.86,-0.42],[0.79,-0.80],[0.94,-0.78],[0.87,-0.96],[0.80,-1.08],[0.95,-1.08],[0.84,-1.18],[0.90,-1.26],[0.77,-1.34],[0.94,-1.40],[0.84,-1.44],[0.90,-1.58],[0.80,-1.62],
[1.02,-0.14],[1.15,-0.31],[1.02,-1.61],[1.08,-1.64],[1.21,-1.75],[1.25,-1.94],[1.18,-2.45],[1.24,0.16],[1.06,-0.42],[1.20,-0.52],[1.01,-0.62],[1.12,-0.70],[1.23,-0.80],[1.05,-0.86],[1.16,-0.94],[1.02,-1.02],[1.10,-1.08],[1.21,-1.12],[1.04,-1.20],[1.14,-1.26],[1.24,-1.32],[1.07,-1.38],[1.18,-1.46],[1.01,-1.48],[1.12,-1.54],[1.22,-1.58],[1.09,-0.22],[1.19,-1.00],[1.08,-1.85],[1.14,-1.10],
[1.09,-0.54],[1.18,-0.64],[1.04,-0.74],[1.15,-0.82],[1.08,-0.96],[1.24,-1.02],[1.01,-1.12],[1.18,-1.20],[1.09,-1.28],[1.21,-1.40],[1.04,-1.56],[1.14,-1.70],
[1.26,-0.47],[1.37,-0.57],[1.46,-0.33],[1.44,-0.53],[1.31,-1.65],[1.38,-1.67],[1.38,-1.80],[1.46,-1.79],[1.38,-2.09],[1.47,-1.47],[1.49,-1.79],[1.29,-0.72],[1.40,-0.80],[1.32,-0.92],[1.45,-1.00],[1.27,-1.05],[1.36,-1.12],[1.48,-1.18],[1.30,-1.25],[1.42,-1.30],[1.34,-1.40],[1.28,-1.52],[1.43,-1.58],[1.33,-0.66],[1.45,-0.78],[1.26,-1.85],
[1.32,-0.80],[1.41,-0.92],[1.38,-1.04],[1.28,-1.16],[1.44,-1.42],[1.36,-1.54],
[1.79,-0.57],[1.64,-0.89],[1.60,-1.03],[1.51,-1.10],[1.56,-1.14],[1.70,-1.16],[1.70,-1.26],[1.54,-1.24],[1.52,-1.35],[2.04,-1.34],[2.17,-1.51],[1.83,-1.51],[2.78,-1.56],[1.57,-1.56],[1.64,-1.58],[2.29,-1.59],[1.58,-1.61],[1.64,-1.63],[1.75,-1.66],[1.83,-1.66],[2.03,-1.73],[2.12,-1.71],[2.29,-1.64],[2.43,-1.67],[1.60,-1.77],[1.75,-1.77],[1.77,-1.84],[1.51,-1.90],[1.52,-1.96],[1.62,-1.97],[1.69,-1.98],[2.04,-1.87],[2.36,-1.86],[2.17,-1.96],[1.84,-2.04],[2.20,-2.09],[2.38,-2.06],[2.41,-2.15],[1.74,-2.15],[1.67,-2.19],[1.72,-2.28],[2.46,-2.28],[1.54,-2.35],[1.51,-2.39],[1.74,-2.41],[1.84,-2.43],[2.39,-2.45],[1.56,-2.49],[1.56,-2.54],[1.67,-2.54],[1.93,-2.52],[1.96,-2.62],[2.07,-2.62],[2.50,-2.62],[1.53,-2.64],[2.18,-2.80],[2.33,-2.77],[2.83,-3.39]
];

const FONT = "'DejaVu Sans', 'Liberation Sans', sans-serif";
const toXY = pts => pts.map(p => ({ x: p[0], y: p[1] }));
const MARKER_R = 5;

const spinesPlugin = {
  id: 'spines',
  afterDatasetsDraw(chart) {
    const { ctx, chartArea: a } = chart;
    ctx.save();
    ctx.strokeStyle = '#000';
    ctx.lineWidth = 2;
    ctx.beginPath();
    ctx.moveTo(a.left - 1, a.top);
    ctx.lineTo(a.right + 1, a.top);
    ctx.moveTo(a.right, a.top);
    ctx.lineTo(a.right, a.bottom);
    ctx.stroke();
    ctx.restore();
  }
};

const legendPlugin = {
  id: 'mplLegend',
  afterDraw(chart) {
    const { ctx, chartArea: a } = chart;
    const w = 132.5, h = 82.5, r = 5;
    const x0 = (a.left + a.right) / 2 - w / 2;
    const y0 = a.top + 12.5;
    ctx.save();
    ctx.beginPath();
    ctx.moveTo(x0 + r, y0);
    ctx.lineTo(x0 + w - r, y0);
    ctx.arcTo(x0 + w, y0, x0 + w, y0 + r, r);
    ctx.lineTo(x0 + w, y0 + h - r);
    ctx.arcTo(x0 + w, y0 + h, x0 + w - r, y0 + h, r);
    ctx.lineTo(x0 + r, y0 + h);
    ctx.arcTo(x0, y0 + h, x0, y0 + h - r, r);
    ctx.lineTo(x0, y0 + r);
    ctx.arcTo(x0, y0, x0 + r, y0, r);
    ctx.closePath();
    ctx.fillStyle = 'rgba(255,255,255,0.8)';
    ctx.fill();
    ctx.lineWidth = 2;
    ctx.strokeStyle = 'rgba(204,204,204,0.8)';
    ctx.stroke();
    const rows = [21, 59.3];
    ctx.font = '25px ' + FONT;
    ctx.textBaseline = 'middle';
    ctx.textAlign = 'left';
    seriesLabels.forEach((lab, i) => {
      const cy = y0 + rows[i];
      ctx.beginPath();
      ctx.arc(x0 + 33.5, cy, MARKER_R, 0, Math.PI * 2);
      ctx.fillStyle = seriesColors[i];
      ctx.fill();
      ctx.fillStyle = '#000';
      ctx.fillText(lab, x0 + 80, cy - 0.5);
    });
    ctx.restore();
  }
};

const axisCommon = {
  type: 'linear',
  border: { display: true, color: '#000', width: 2 },
  grid: { display: true, drawOnChartArea: false, drawTicks: true, tickLength: 9, tickWidth: 2, tickColor: '#000', color: '#000' },
};

new Chart(document.getElementById('c'), {
  type: 'scatter',
  data: {
    datasets: [
      { label: seriesLabels[0], data: toXY(ys1Points), backgroundColor: seriesColors[0], borderColor: seriesColors[0], pointRadius: MARKER_R, pointBorderWidth: 0, pointHoverRadius: MARKER_R, order: 2 },
      { label: seriesLabels[1], data: toXY(ys2Points), backgroundColor: seriesColors[1], borderColor: seriesColors[1], pointRadius: MARKER_R, pointBorderWidth: 0, pointHoverRadius: MARKER_R, order: 1 }
    ]
  },
  options: {
    responsive: false,
    animation: false,
    devicePixelRatio: 1,
    events: [],
    layout: { padding: { left: 0, right: 4, top: 0, bottom: 0 } },
    plugins: {
      legend: { display: false },
      tooltip: { enabled: false },
      title: {
        display: true, text: titleText, color: '#000', fullSize: false,
        font: { family: FONT, size: 30, weight: 'normal', lineHeight: 1.2 },
        padding: { top: 11.5, bottom: 7 }
      }
    },
    scales: {
      x: Object.assign({}, axisCommon, {
        position: 'bottom',
        min: xRange[0], max: xRange[1],
        afterBuildTicks: s => { s.ticks = xTicks.map(v => ({ value: v })); },
        afterFit: s => { s.height = 76.5; },
        ticks: { color: '#000', font: { family: FONT, size: 25, lineHeight: 1.2 }, padding: 6, maxRotation: 0, autoSkip: false,
          callback: v => xTickLabels[xTicks.indexOf(v)] },
        title: { display: true, text: xAxisLabel, color: '#000', font: { family: FONT, size: 25, lineHeight: 1 }, padding: { top: 0, bottom: 1.3 } }
      }),
      y: Object.assign({}, axisCommon, {
        position: 'left',
        min: yRange[0], max: yRange[1],
        afterBuildTicks: s => { s.ticks = yTicks.map(v => ({ value: v })); },
        afterFit: s => { s.width = 97.5; },
        ticks: { color: '#000', font: { family: FONT, size: 25, lineHeight: 1.2 }, padding: 8, autoSkip: false,
          callback: v => yTickLabels[yTicks.indexOf(v)] },
        title: { display: true, text: yAxisLabel, color: '#000', font: { family: FONT, size: 25, lineHeight: 1 }, padding: { top: 5.7, bottom: 0 } }
      })
    }
  },
  plugins: [spinesPlugin, legendPlugin]
});
</script>
</body></html>
